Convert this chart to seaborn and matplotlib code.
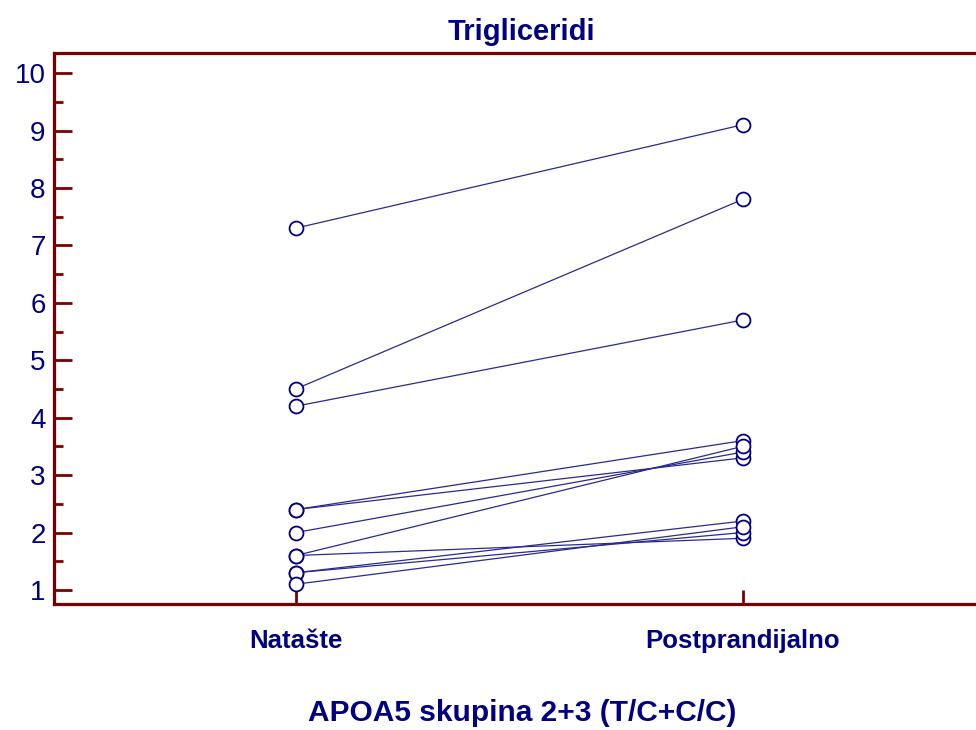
import pandas as pd
import matplotlib.pyplot as plt
import seaborn as sns

# Paired measurements (mmol/L), one line per subject
phases = ["Natašte", "Postprandijalno"]
natashte = [7.3, 4.5, 4.2, 2.4, 2.4, 2.0, 1.6, 1.6, 1.3, 1.3, 1.1]
postprandial = [9.1, 7.8, 5.7, 3.6, 3.3, 3.4, 3.5, 1.9, 2.2, 2.0, 2.1]
y_ticks = list(range(1, 11))

rows = []
for i, (a, b) in enumerate(zip(natashte, postprandial)):
    rows.append({"subject": i, "pos": 0, "value": a})
    rows.append({"subject": i, "pos": 1, "value": b})
df = pd.DataFrame(rows)

sns.set_style("white")
plt.rcParams["font.family"] = ["Liberation Sans", "DejaVu Sans"]

navy = "#000080"
line_col = "#2a2a8f"
spine_col = "#7a0000"

fig = plt.figure(figsize=(9.76, 7.3), dpi=100)
ax = fig.add_axes([0.0553, 0.1726, 1.014 - 0.0553, 0.7548])

sns.lineplot(
    data=df, x="pos", y="value", units="subject", estimator=None,
    color=line_col, linewidth=0.9, marker="o", markersize=10,
    markerfacecolor="white", markeredgecolor=navy, markeredgewidth=1.3,
    ax=ax,
)

ax.set_xlim(-0.541, 1.553)
ax.set_ylim(0.756, 10.35)
ax.set_xticks([0, 1])
ax.set_xticklabels(phases, fontsize=18.5, fontweight="bold", color=navy)
ax.set_yticks(y_ticks)
ax.set_yticklabels([str(t) for t in y_ticks], fontsize=20, color=navy)
ax.set_yticks([t + 0.5 for t in y_ticks[:-1]], minor=True)

ax.tick_params(axis="y", which="major", direction="in", length=13, width=2,
               color=spine_col, pad=6, left=True)
ax.tick_params(axis="y", which="minor", direction="in", length=6.5, width=2,
               color=spine_col, left=True)
ax.tick_params(axis="x", which="major", direction="in", length=10, width=2,
               color=spine_col, pad=18, bottom=True)

for side in ["left", "top", "bottom"]:
    ax.spines[side].set_color(spine_col)
    ax.spines[side].set_linewidth(2.3)
ax.spines["right"].set_visible(False)

ax.set_xlabel("APOA5 skupina 2+3 (T/C+C/C)", fontsize=21.5, fontweight="bold",
              color=navy, labelpad=33)
ax.set_ylabel("")
ax.set_title("Trigliceridi", fontsize=21, fontweight="bold", color=navy, pad=9)

plt.savefig("out.png", dpi=100)
